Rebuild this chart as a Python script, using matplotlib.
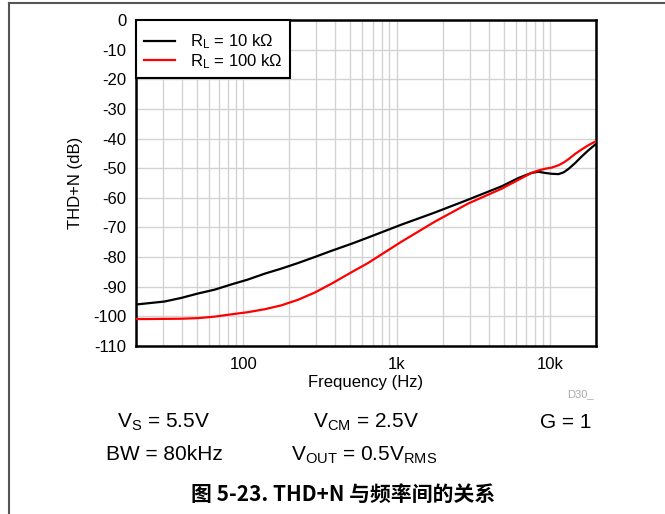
import matplotlib
matplotlib.use("Agg")
import matplotlib.pyplot as plt
from matplotlib.lines import Line2D
import numpy as np

plt.rcParams['font.family'] = ['Liberation Sans', 'DejaVu Sans']
plt.rcParams['mathtext.fontset'] = 'custom'
plt.rcParams['mathtext.rm'] = 'Liberation Sans'
plt.rcParams['mathtext.it'] = 'Liberation Sans'

# Data
freq_10k = [20, 30.6, 39.3, 50.6, 65, 84, 107, 138, 177, 228, 292, 376, 509,
            652, 1070, 1770, 2940, 4860, 6250, 7600, 8400, 9300, 10300,
            11400, 12300, 13200, 14600, 16100, 17900, 20000]
thd_10k = [-96.0, -95.0, -93.8, -92.3, -91.0, -89.2, -87.6, -85.6, -83.9,
           -82.0, -80.0, -77.9, -75.5, -73.4, -69.1, -65.0, -60.6, -56.1,
           -53.3, -51.6, -51.2, -51.6, -51.9, -52.0, -51.4, -50.3, -48.3,
           -46.1, -43.9, -41.8]
freq_100k = [20, 23.8, 39.3, 50.6, 65, 84, 107, 138, 177, 228, 292, 376, 509,
             652, 1070, 1770, 2940, 4860, 6250, 7600, 8400, 9300, 10300,
             11400, 12300, 13200, 14600, 16100, 17900, 20000]
thd_100k = [-100.9, -100.9, -100.8, -100.6, -100.1, -99.3, -98.6, -97.6,
            -96.3, -94.4, -92.0, -89.0, -85.1, -82.0, -74.9, -68.1, -61.9,
            -56.9, -53.9, -51.6, -50.8, -50.2, -49.8, -49.0, -48.1, -47.0,
            -45.2, -43.7, -42.2, -40.9]
series_labels = [r"R$_\mathrm{L}$ = 10 k$\Omega$", r"R$_\mathrm{L}$ = 100 k$\Omega$"]
x_ticks = [100, 1000, 10000]
x_ticklabels = ["100", "1k", "10k"]
y_ticks = list(range(0, -120, -10))

W, H = 665, 514
fig = plt.figure(figsize=(W / 100, H / 100), dpi=100)
L, R, T, B = 136, 596, 20, 346
ax = fig.add_axes([L / W, 1 - B / H, (R - L) / W, (B - T) / H])

ax.plot(freq_10k, thd_10k, color='black', lw=1.6, label=series_labels[0], zorder=3)
ax.plot(freq_100k, thd_100k, color='#ff0000', lw=1.6, label=series_labels[1], zorder=3)

ax.set_xscale('log')
ax.set_xlim(20, 20000)
ax.set_ylim(-110, 0)
ax.set_xticks(x_ticks)
ax.set_xticklabels(x_ticklabels)
ax.set_yticks(y_ticks)
ax.set_yticklabels([str(v) for v in y_ticks])
ax.tick_params(axis='both', which='both', length=0, labelsize=12, pad=7)
ax.tick_params(axis='x', pad=8)
ax.grid(True, which='major', color='#d3d3d3', lw=1.0)
ax.grid(True, which='minor', axis='x', color='#d3d3d3', lw=1.0)
ax.set_axisbelow(True)
for s in ax.spines.values():
    s.set_linewidth(1.8)
    s.set_color('black')

ax.set_xlabel("Frequency (Hz)", fontsize=12, labelpad=2)
ax.set_ylabel("THD+N (dB)", fontsize=12, labelpad=7)

leg = ax.legend(loc='upper left', fontsize=12, frameon=True, fancybox=False,
                borderaxespad=0, handlelength=1.9, handletextpad=0.9,
                labelspacing=0.05, borderpad=0.45, title=" ",
                title_fontproperties={'size': 3})
leg.get_frame().set_edgecolor('black')
leg.get_frame().set_linewidth(1.5)
leg.get_frame().set_alpha(1)

def fx(px):
    return px / W

def fy(py):
    return 1 - py / H

fig.text(fx(580), fy(394), "D30_", fontsize=8, color='#aaaaaa', ha='center', va='center')
fs = 15
fig.text(fx(164), fy(422), r"V$_\mathrm{S}$ = 5.5V", fontsize=fs, ha='center', va='center')
fig.text(fx(366), fy(422), r"V$_\mathrm{CM}$ = 2.5V", fontsize=fs, ha='center', va='center')
fig.text(fx(566), fy(422), "G = 1", fontsize=fs, ha='center', va='center')
fig.text(fx(164), fy(455), "BW = 80kHz", fontsize=fs, ha='center', va='center')
fig.text(fx(291), fy(455), r"V$_\mathrm{OUT}$ = 0.5V$_\mathrm{RMS}$", fontsize=fs, ha='left', va='center')
fig.text(fx(343), fy(494), "图 5-23. THD+N 与频率间的关系", fontsize=15, fontweight='bold',
         ha='center', va='center', family=['Noto Sans CJK SC', 'Liberation Sans'])

fig.add_artist(Line2D([fx(8.5), fx(8.5)], [0, fy(2.5)], color='#555555', lw=1.5))
fig.add_artist(Line2D([fx(8.5), 1], [fy(2.5), fy(2.5)], color='#555555', lw=1.5))

fig.savefig("out.png", dpi=100)
